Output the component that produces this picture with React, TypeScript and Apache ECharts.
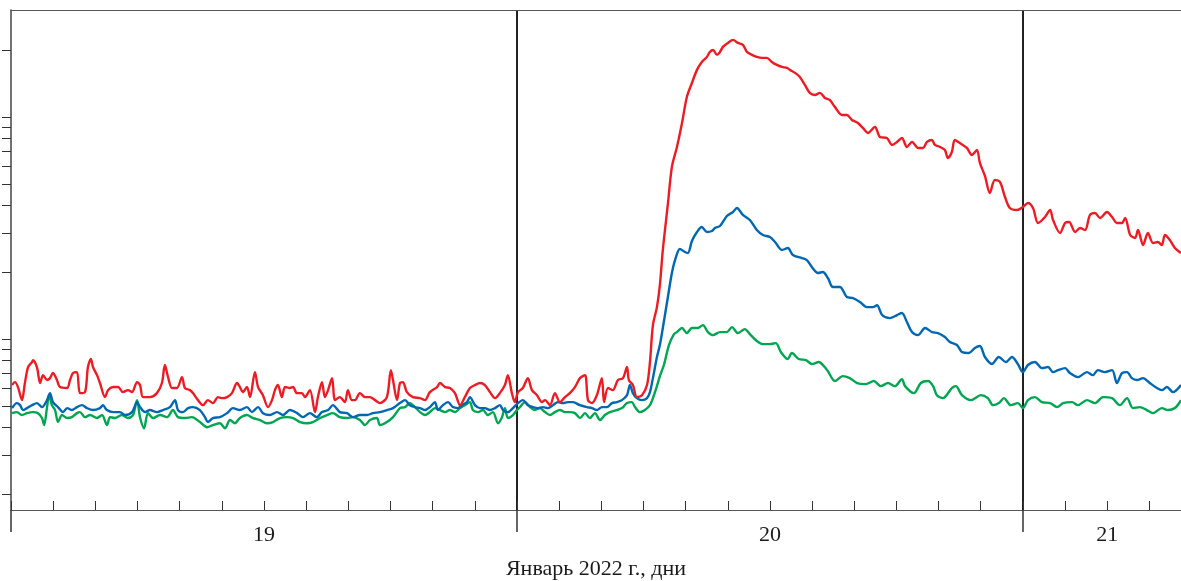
import React, { useEffect, useRef } from 'react';
import * as echarts from 'echarts';

// x: hours since 19 January 2022 00:00; y: flux (log scale, arbitrary units)
const redSeries: [number, number][] = [
  [0.05,.621],[0.19,.640],[0.33,.608],[0.52,.531],[0.66,.634],[0.81,.748],[1.00,.788],[1.04,.804],[1.23,.748],[1.38,.634],
  [1.52,.688],[1.71,.654],[1.85,.667],[1.99,.703],[2.18,.654],[2.32,.608],[2.66,.602],[2.80,.654],[2.94,.703],[3.13,.710],
  [3.27,.571],[3.51,.577],[3.65,.748],[3.79,.813],[3.89,.748],[4.08,.688],[4.22,.634],[4.46,.548],[4.60,.589],[4.84,.608],
  [5.08,.608],[5.31,.577],[5.55,.589],[5.74,.577],[5.98,.640],[6.12,.621],[6.26,.548],[6.59,.548],[6.92,.571],[7.16,.634],
  [7.30,.764],[7.45,.674],[7.64,.602],[7.87,.602],[8.11,.674],[8.25,.602],[8.49,.589],[8.63,.571],[8.87,.531],[9.11,.504],
  [9.34,.531],[9.58,.515],[9.82,.548],[10.01,.542],[10.25,.548],[10.48,.571],[10.72,.634],[10.86,.608],[11.00,.577],[11.19,.608],
  [11.34,.548],[11.57,.710],[11.72,.608],[11.95,.559],[12.19,.494],[12.38,.531],[12.52,.589],[12.66,.621],[12.85,.548],[13.00,.608],
  [13.23,.602],[13.38,.608],[13.56,.571],[13.80,.571],[13.94,.548],[14.18,.589],[14.42,.469],[14.56,.548],[14.75,.640],[14.89,.548],
  [15.04,.589],[15.23,.667],[15.37,.531],[15.60,.548],[15.84,.520],[15.98,.589],[16.17,.531],[16.32,.531],[16.55,.571],[16.79,.548],
  [17.03,.548],[17.27,.531],[17.50,.515],[17.83,.548],[18.02,.725],[18.12,.654],[18.31,.531],[18.45,.634],[18.59,.640],[18.78,.577],
  [19.07,.548],[19.40,.542],[19.64,.531],[19.87,.577],[20.21,.608],[20.35,.634],[20.59,.608],[20.82,.602],[21.06,.571],[21.30,.504],
  [21.53,.548],[21.77,.602],[22.01,.621],[22.25,.634],[22.48,.621],[22.72,.577],[22.96,.542],[23.19,.571],[23.43,.621],[23.57,.688],
  [23.76,.571],[23.90,.520],[24.05,.577],[24.28,.602],[24.52,.667],[24.71,.589],[24.95,.559],[25.19,.520],[25.33,.531],[25.57,.504],
  [25.80,.571],[26.04,.520],[26.28,.548],[26.51,.571],[26.75,.608],[26.99,.667],[27.23,.688],[27.37,.531],[27.56,.515],[27.79,.559],
  [28.03,.667],[28.13,.520],[28.32,.602],[28.55,.589],[28.79,.654],[29.03,.667],[29.22,.748],[29.31,.654],[29.50,.621],[29.69,.548],
  [29.93,.559],[30.17,.621],[30.31,.788],[30.45,1.156],[30.64,1.393],[30.78,1.751],[30.92,2.517],[31.16,4.056],[31.35,5.954],[31.59,7.327],
  [31.83,9.397],[32.06,12.30],[32.30,14.22],[32.54,16.29],[32.77,17.69],[33.01,18.63],[33.15,19.62],[33.30,20.03],[33.49,19.02],[33.63,19.62],
  [33.77,20.67],[34.01,21.54],[34.25,22.23],[34.48,21.54],[34.72,21.10],[34.91,19.62],[35.15,19.02],[35.38,18.63],[35.62,18.44],[35.86,18.44],
  [36.09,17.69],[36.33,17.15],[36.57,16.80],[36.81,16.62],[36.95,16.29],[37.19,15.79],[37.42,15.14],[37.66,13.93],[37.89,12.83],[38.13,12.56],
  [38.37,12.83],[38.61,12.18],[38.84,11.93],[39.08,11.10],[39.42,10.21],[39.65,10.21],[39.89,9.694],[40.17,9.397],[40.41,8.923],[40.65,8.471],
  [40.98,9.015],[41.22,8.127],[41.55,8.043],[41.79,7.480],[42.03,7.715],[42.26,8.043],[42.50,7.327],[42.74,7.715],[43.03,7.251],[43.26,7.251],
  [43.45,7.715],[43.68,7.877],[43.83,7.480],[44.06,7.327],[44.30,7.101],[44.44,6.536],[44.63,6.955],[44.77,7.877],[45.01,7.636],[45.34,7.251],
  [45.58,6.743],[45.82,7.101],[45.96,6.207],[46.20,5.423],[46.43,4.547],[46.67,5.203],[46.91,5.096],[47.15,4.362],[47.38,3.891],[47.72,3.811],
  [48.00,3.932],[48.24,4.100],[48.48,3.891],[48.72,3.331],[49.05,3.545],[49.29,3.811],[49.43,3.436],[49.76,3.003],[50.00,3.331],[50.19,3.365],
  [50.48,3.034],[50.71,3.162],[50.95,3.097],[51.18,3.619],[51.42,3.695],[51.66,3.508],[51.99,3.733],[52.23,3.545],[52.46,3.331],[52.70,3.331],
  [52.85,3.508],[53.09,2.941],[53.32,2.851],[53.46,3.097],[53.70,2.651],[53.93,3.003],[54.17,2.707],[54.40,2.735],[54.59,2.651],[54.74,2.941],
  [54.97,2.792],[55.21,2.570],[55.50,2.440],
];

const blueSeries: [number, number][] = [
  [0.05,.489],[0.28,.515],[0.43,.504],[0.57,.479],[0.76,.489],[1.00,.504],[1.23,.515],[1.47,.494],[1.71,.531],[1.85,.571],
  [1.99,.520],[2.23,.494],[2.47,.469],[2.66,.489],[2.89,.479],[3.13,.494],[3.37,.504],[3.60,.489],[3.89,.479],[4.22,.489],
  [4.36,.504],[4.55,.479],[4.84,.469],[5.17,.469],[5.41,.455],[5.74,.469],[5.98,.520],[6.12,.494],[6.36,.469],[6.59,.479],
  [6.92,.469],[7.21,.479],[7.54,.494],[7.78,.531],[7.92,.479],[8.16,.469],[8.40,.489],[8.63,.494],[8.96,.479],[9.20,.445],
  [9.34,.423],[9.58,.441],[9.91,.445],[10.25,.464],[10.53,.489],[10.86,.479],[11.19,.494],[11.43,.469],[11.72,.494],[11.95,.464],
  [12.28,.455],[12.62,.469],[12.90,.455],[13.23,.479],[13.57,.464],[13.85,.445],[14.18,.464],[14.51,.445],[14.75,.469],[15.04,.479],
  [15.27,.504],[15.60,.469],[15.94,.464],[16.22,.445],[16.55,.455],[16.89,.455],[17.17,.464],[17.50,.469],[17.83,.479],[18.12,.489],
  [18.45,.515],[18.69,.531],[18.92,.504],[19.16,.494],[19.40,.489],[19.64,.479],[19.87,.494],[20.11,.520],[20.25,.479],[20.49,.504],
  [20.73,.520],[20.96,.494],[21.20,.489],[21.39,.504],[21.63,.520],[21.77,.548],[22.01,.504],[22.25,.489],[22.48,.489],[22.72,.479],
  [22.96,.489],[23.19,.504],[23.34,.479],[23.57,.469],[23.81,.489],[24.05,.515],[24.28,.531],[24.52,.504],[24.76,.494],[25.00,.489],
  [25.23,.494],[25.47,.489],[25.71,.504],[25.94,.520],[26.18,.515],[26.42,.520],[26.66,.520],[26.99,.504],[27.32,.494],[27.56,.489],
  [27.79,.479],[28.03,.494],[28.27,.494],[28.51,.515],[28.74,.520],[28.98,.531],[29.22,.559],[29.36,.621],[29.50,.571],[29.69,.542],
  [29.93,.531],[30.17,.542],[30.31,.577],[30.45,.667],[30.64,.830],[30.78,.940],[30.92,1.121],[31.16,1.546],[31.35,1.983],[31.50,2.269],
  [31.73,2.543],[31.97,2.465],[32.11,2.440],[32.30,2.763],[32.54,3.034],[32.77,3.195],[33.01,3.034],[33.25,3.065],[33.39,3.162],[33.63,3.228],
  [33.96,3.582],[34.25,3.733],[34.43,3.891],[34.72,3.619],[35.05,3.436],[35.38,3.097],[35.67,2.941],[36.00,2.881],[36.24,2.735],[36.57,2.517],
  [36.85,2.570],[37.09,2.390],[37.52,2.317],[37.75,2.269],[37.99,2.110],[38.28,1.983],[38.51,2.003],[38.75,1.883],[38.99,1.715],[39.32,1.715],
  [39.65,1.546],[39.94,1.530],[40.27,1.469],[40.60,1.393],[40.89,1.393],[41.08,1.422],[41.32,1.283],[41.69,1.243],[42.03,1.283],[42.26,1.310],
  [42.50,1.193],[42.74,1.075],[43.02,1.042],[43.36,1.121],[43.69,1.075],[43.97,1.064],[44.30,1.021],[44.54,.969],[44.87,.940],[45.11,.874],
  [45.44,.865],[45.72,.911],[45.96,.930],[46.20,.830],[46.53,.772],[46.86,.830],[47.19,.788],[47.48,.830],[47.76,.772],[48.00,.710],
  [48.24,.764],[48.57,.788],[48.90,.740],[49.19,.748],[49.43,.710],[49.67,.725],[50.00,.740],[50.23,.703],[50.61,.674],[51.04,.710],
  [51.32,.688],[51.56,.725],[51.89,.710],[52.23,.725],[52.46,.634],[52.70,.703],[52.94,.710],[53.17,.667],[53.41,.654],[53.70,.667],
  [54.02,.634],[54.36,.602],[54.59,.589],[54.83,.608],[55.12,.577],[55.50,.621],
];

const greenSeries: [number, number][] = [
  [0.05,.464],[0.28,.469],[0.52,.455],[0.76,.464],[1.04,.469],[1.28,.464],[1.47,.441],[1.57,.410],[1.71,.494],[1.80,.559],
  [1.94,.504],[2.09,.479],[2.23,.423],[2.42,.455],[2.66,.441],[2.89,.445],[3.13,.464],[3.27,.469],[3.51,.445],[3.75,.455],
  [4.08,.441],[4.32,.455],[4.55,.410],[4.70,.445],[4.93,.441],[5.26,.455],[5.55,.441],[5.79,.455],[5.98,.531],[6.12,.445],
  [6.31,.397],[6.50,.464],[6.74,.441],[7.07,.455],[7.40,.445],[7.68,.479],[7.92,.445],[8.25,.441],[8.58,.445],[8.96,.423],
  [9.30,.401],[9.58,.410],[9.91,.418],[10.15,.397],[10.39,.432],[10.62,.418],[10.86,.441],[11.19,.455],[11.48,.441],[11.81,.432],
  [12.14,.418],[12.43,.423],[12.76,.441],[13.09,.445],[13.38,.441],[13.71,.423],[14.04,.418],[14.32,.423],[14.66,.441],[14.99,.455],
  [15.27,.464],[15.60,.445],[15.94,.441],[16.22,.445],[16.55,.432],[16.79,.410],[17.03,.432],[17.36,.441],[17.50,.410],[17.83,.423],
  [18.12,.445],[18.45,.489],[18.69,.494],[18.92,.515],[19.16,.494],[19.40,.469],[19.64,.455],[19.87,.469],[20.11,.489],[20.35,.479],
  [20.59,.469],[20.82,.479],[21.06,.469],[21.30,.489],[21.53,.504],[21.77,.520],[21.91,.479],[22.15,.469],[22.39,.479],[22.62,.455],
  [22.86,.469],[23.10,.418],[23.29,.445],[23.43,.489],[23.57,.441],[23.81,.455],[24.00,.479],[24.14,.494],[24.38,.520],[24.62,.494],
  [24.85,.479],[25.09,.489],[25.33,.469],[25.57,.455],[25.80,.469],[26.04,.479],[26.28,.469],[26.51,.469],[26.75,.464],[26.99,.441],
  [27.23,.464],[27.46,.441],[27.70,.464],[27.94,.432],[28.17,.455],[28.41,.469],[28.74,.479],[28.98,.489],[29.22,.515],[29.45,.520],
  [29.60,.494],[29.83,.469],[30.07,.479],[30.31,.504],[30.45,.542],[30.64,.614],[30.78,.681],[30.97,.764],[31.21,.940],[31.45,1.053],
  [31.59,1.075],[31.83,1.121],[32.06,1.064],[32.30,1.121],[32.58,1.121],[32.82,1.156],[33.06,1.075],[33.30,1.042],[33.63,1.075],[33.96,1.075],
  [34.20,1.132],[34.48,1.064],[34.81,1.109],[35.05,1.053],[35.38,.980],[35.67,.949],[36.00,.949],[36.28,.959],[36.52,.874],[36.85,.813],
  [37.04,.865],[37.37,.813],[37.71,.804],[37.99,.772],[38.32,.788],[38.56,.756],[38.75,.717],[39.08,.647],[39.46,.681],[39.79,.667],
  [40.13,.634],[40.55,.627],[40.93,.647],[41.26,.614],[41.60,.634],[41.93,.614],[42.26,.660],[42.41,.614],[42.83,.571],[43.16,.634],
  [43.50,.647],[43.74,.614],[43.92,.559],[44.21,.542],[44.63,.602],[44.82,.614],[45.11,.559],[45.53,.531],[46.01,.559],[46.34,.542],
  [46.58,.504],[46.86,.515],[47.10,.542],[47.43,.504],[47.76,.515],[48.00,.489],[48.24,.531],[48.57,.548],[48.90,.520],[49.29,.515],
  [49.62,.494],[49.91,.515],[50.33,.520],[50.61,.504],[51.04,.531],[51.42,.515],[51.80,.548],[52.23,.542],[52.60,.504],[52.94,.542],
  [53.22,.489],[53.55,.494],[53.88,.479],[54.17,.464],[54.59,.489],[54.88,.479],[55.21,.489],[55.50,.531],
];

const dayBoundaryHours = [0, 24, 48];
const dayLabelHours = [12, 36, 52];
const dayLabels = ['19', '20', '21'];
const yTickValues = [0.2, 0.3, 0.4, 0.5, 0.6, 0.7, 0.8, 0.9, 1, 2, 3, 4, 5, 6, 7, 8, 9, 10, 20];
const xTitle = 'Январь 2022 г., дни';

const FONT = "'Liberation Serif', 'Times New Roman', serif";

export default function App() {
  const ref = useRef<HTMLDivElement>(null);
  useEffect(() => {
    if (!ref.current) return;
    const chart = echarts.init(ref.current, null, { renderer: 'svg' });
    const line = (data: [number, number][], color: string) => ({
      type: 'line',
      data,
      showSymbol: false,
      symbol: 'none',
      smooth: 0.3,
      lineStyle: { color, width: 2.4, join: 'round' },
      emphasis: { disabled: true },
    });
    chart.setOption({
      animation: false,
      grid: { left: 11, right: 0, top: 10, bottom: 71, containLabel: false, outerBoundsMode: 'none' },
      xAxis: [
        {
          type: 'value', min: 0, max: 55.5, interval: 2, position: 'bottom',
          axisLine: { show: true, onZero: false, lineStyle: { color: '#555', width: 1 } },
          axisTick: { show: true, inside: true, length: 9, lineStyle: { color: '#333', width: 1 } },
          axisLabel: { show: false },
          splitLine: { show: false },
        },
        {
          type: 'value', min: 0, max: 55.5, interval: 24, position: 'bottom',
          axisLine: { show: false, onZero: false },
          axisTick: { show: true, inside: false, length: 22, customValues: dayBoundaryHours, lineStyle: { color: '#333', width: 1.5 } },
          axisLabel: {
            show: true, customValues: dayLabelHours, margin: 12,
            formatter: (v: number) => dayLabels[dayLabelHours.indexOf(v)] ?? '',
            fontSize: 22, fontFamily: FONT, color: '#1a1a1a',
          },
          splitLine: { show: true, showMinLine: false, showMaxLine: true, lineStyle: { color: '#222', width: 2 } },
          name: xTitle, nameLocation: 'middle', nameGap: 46,
          nameTextStyle: { fontSize: 22, fontFamily: FONT, color: '#1a1a1a' },
        },
        {
          type: 'value', min: 0, max: 55.5, position: 'top',
          axisLine: { show: true, onZero: false, lineStyle: { color: '#555', width: 1 } },
          axisTick: { show: false }, axisLabel: { show: false }, splitLine: { show: false },
        },
      ],
      yAxis: {
        type: 'log', logBase: 10, min: 0.17, max: 30.3,
        axisLine: { show: true, onZero: false, lineStyle: { color: '#444', width: 1.5 } },
        axisTick: { show: true, inside: false, length: 9, customValues: yTickValues, lineStyle: { color: '#333', width: 1 } },
        axisLabel: { show: false },
        splitLine: { show: false },
        minorTick: { show: false },
      },
      series: [
        line(greenSeries, '#00A651'),
        line(blueSeries, '#0067B2'),
        line(redSeries, '#ED1C24'),
      ],
    });
    return () => chart.dispose();
  }, []);
  return <div ref={ref} style={{ position: 'fixed', left: 0, top: 0, width: 1181, height: 581 }} />;
}
